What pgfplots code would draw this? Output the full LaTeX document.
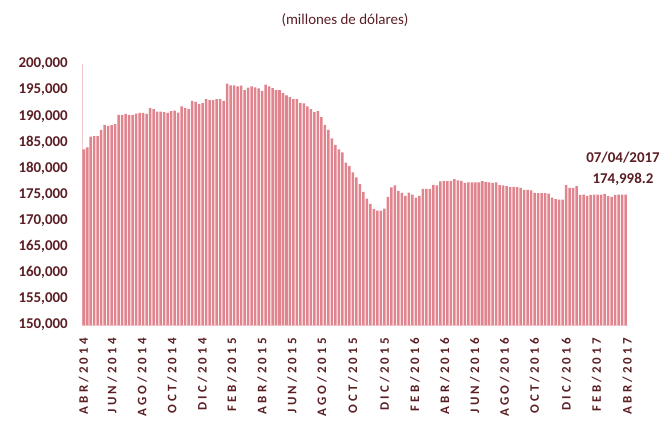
\documentclass[border=0pt]{standalone}
\usepackage{fontspec}
\setmainfont{Carlito}
\newfontfamily\xlabfont[LetterSpace=24]{Carlito}
\usepackage{pgfplots}
\pgfplotsset{compat=1.18}
\definecolor{txt}{RGB}{90,30,35}
\definecolor{barc}{RGB}{224,132,142}
\definecolor{axc}{RGB}{240,200,205}
\pgfplotstableread{
x y
1 183650
2 184040
3 186100
4 186200
5 186200
6 187370
7 188330
8 188140
9 188270
10 188460
11 190250
12 190250
13 190450
14 190250
15 190250
16 190500
17 190640
18 190640
19 190450
20 191540
21 191350
22 190900
23 190900
24 190770
25 190640
26 190960
27 191090
28 190700
29 191860
30 191540
31 191410
32 192950
33 192750
34 192370
35 192500
36 193270
37 193080
38 193080
39 193270
40 193270
41 192950
42 196220
43 195900
44 195900
45 195700
46 195840
47 195000
48 195450
49 195700
50 195510
51 195320
52 194870
53 196030
54 195700
55 195380
56 195000
57 195000
58 194420
59 193970
60 193650
61 193270
62 193270
63 192570
64 192440
65 191860
66 191350
67 190770
68 190960
69 189810
70 188330
71 187370
72 185770
73 184490
74 183650
75 183080
76 181090
77 180440
78 179230
79 178270
80 176980
81 175520
82 174230
83 173210
84 172250
85 171920
86 171920
87 172310
88 174560
89 176350
90 176730
91 175710
92 175330
93 174750
94 175380
95 175000
96 174420
97 174750
98 176090
99 176090
100 176090
101 176860
102 176730
103 177500
104 177630
105 177560
106 177630
107 177950
108 177690
109 177630
110 177250
111 177310
112 177310
113 177310
114 177310
115 177560
116 177440
117 177310
118 177250
119 177310
120 176790
121 176730
122 176600
123 176470
124 176470
125 176400
126 176280
127 175900
128 175900
129 175770
130 175320
131 175260
132 175260
133 175260
134 175190
135 174420
136 174100
137 174040
138 174040
139 176790
140 176280
141 176280
142 176600
143 174930
144 175000
145 174740
146 174930
147 175000
148 175000
149 175000
150 175130
151 174680
152 174550
153 174930
154 175000
155 175000
156 174998.2
}\datatable
\begin{document}
\begin{tikzpicture}[x=1bp,y=1bp]
\useasboundingbox (0,0) rectangle (667,423);
\node[text=txt, font=\fontsize{15}{18}\selectfont] at (345,403) {(millones de dólares)};
\begin{axis}[at={(82bp,98bp)}, anchor=south west, scale only axis,
  width=546bp, height=261bp,
  xmin=0.5, xmax=156.7, ymin=150000, ymax=200000,
  scaled y ticks=false,
  axis x line*=bottom, axis y line*=left,
  axis line style={draw=axc, line width=0.8bp, -},
  major tick length=0pt,
  ytick={150000,155000,160000,165000,170000,175000,180000,185000,190000,195000,200000},
  yticklabels={{150,000},{155,000},{160,000},{165,000},{170,000},{175,000},{180,000},{185,000},{190,000},{195,000},{200,000}},
  yticklabel style={font=\bfseries\fontsize{15}{18}\selectfont, text=txt, inner sep=0pt, anchor=east},
  yticklabel shift=14bp,
  xtick={1,9.1,17.7,26.3,34.9,43.4,52,60.6,69.1,78,87.1,95.7,104.3,112.9,121.4,130,139.1,147.7,156.5},
  xticklabels={ABR/2014,JUN/2014,AGO/2014,OCT/2014,DIC/2014,FEB/2015,ABR/2015,JUN/2015,AGO/2015,OCT/2015,DIC/2015,FEB/2016,ABR/2016,JUN/2016,AGO/2016,OCT/2016,DIC/2016,FEB/2017,ABR/2017},
  xticklabel style={font=\xlabfont\bfseries\fontsize{13}{15}\selectfont, text=txt, rotate=90, anchor=east, inner sep=0pt},
  xticklabel shift=13bp,
]
\addplot[ybar, bar width=0.72, fill=barc, draw=none] table[x=x, y=y] {\datatable};
\end{axis}
\node[text=txt, font=\bfseries\fontsize{15}{18}\selectfont] at (623,265) {07/04/2017};
\node[text=txt, font=\bfseries\fontsize{15}{18}\selectfont] at (623,244) {174,998.2};
\end{tikzpicture}
\end{document}
